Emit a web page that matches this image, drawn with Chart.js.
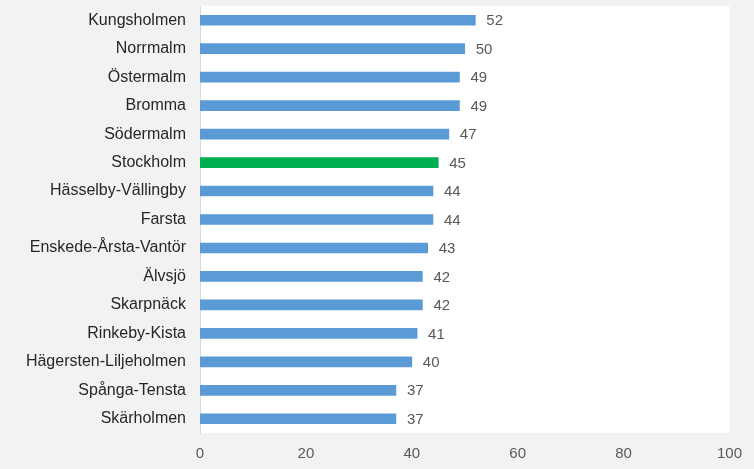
<!DOCTYPE html>
<html>
<head>
<meta charset="utf-8">
<script src="https://cdn.jsdelivr.net/npm/chart.js@4/dist/chart.umd.min.js"></script>
<style>
  html, body { margin: 0; padding: 0; background: #f2f2f2; }
  #wrap { width: 754px; height: 469px; }
</style>
</head>
<body>
<div id="wrap"><canvas id="bar_chart" width="754" height="469"></canvas></div>
<script>
// data
const districts = ['Kungsholmen', 'Norrmalm', 'Östermalm', 'Bromma', 'Södermalm', 'Stockholm',
    'Hässelby-Vällingby', 'Farsta', 'Enskede-Årsta-Vantör', 'Älvsjö', 'Skarpnäck',
    'Rinkeby-Kista', 'Hägersten-Liljeholmen', 'Spånga-Tensta', 'Skärholmen'];
const values = [52, 50, 49, 49, 47, 45, 44, 44, 43, 42, 42, 41, 40, 37, 37];
const xTicks = [0, 20, 40, 60, 80, 100];

const FONT = "'Liberation Sans', sans-serif";
const barColors = districts.map(d => d === 'Stockholm' ? '#00b050' : '#5b9bd5');

// white plot area + value labels
const plotBg = {
    id: 'plotBg',
    beforeDraw: function (chart) {
        const a = chart.chartArea;
        const ctx = chart.ctx;
        ctx.save();
        ctx.fillStyle = '#ffffff';
        ctx.fillRect(a.left, a.top, a.right - a.left, a.bottom - a.top);
        ctx.restore();
    },
    afterDatasetsDraw: function (chart) {
        const ctx = chart.ctx;
        const meta = chart.getDatasetMeta(0);
        ctx.save();
        ctx.fillStyle = '#595959';
        ctx.font = '15px ' + FONT;
        ctx.textAlign = 'left';
        ctx.textBaseline = 'middle';
        meta.data.forEach(function (bar, i) {
            ctx.fillText(String(values[i]), bar.x + 11, bar.y + 1);
        });
        ctx.restore();
    }
};

var ctx = document.getElementById('bar_chart').getContext('2d');
window.myBar = new Chart(ctx, {
    type: 'bar',
    data: {
        labels: districts,
        datasets: [{
            data: values,
            backgroundColor: barColors,
            barThickness: 10
        }]
    },
    options: {
        indexAxis: 'y',
        responsive: false,
        animation: false,
        layout: { padding: { top: 6, right: 24, left: 0, bottom: 0 } },
        plugins: { legend: { display: false }, tooltip: { enabled: false } },
        scales: {
            x: {
                min: 0,
                max: 100,
                afterBuildTicks: function (scale) {
                    scale.ticks = xTicks.map(v => ({ value: v }));
                },
                afterFit: function (scale) { scale.height = 36; },
                grid: { display: false, drawTicks: false },
                border: { display: false },
                ticks: { color: '#595959', font: { family: FONT, size: 15 }, padding: 12 }
            },
            y: {
                afterFit: function (scale) {
                    scale.width = 200;
                    scale.paddingTop = 0;
                    scale.paddingBottom = 0;
                },
                grid: { display: false, drawTicks: false },
                border: { display: true, color: '#d9d9d9', width: 1 },
                ticks: { color: '#262626', font: { family: FONT, size: 16 }, padding: 14 }
            }
        }
    },
    plugins: [plotBg]
});
</script>
</body>
</html>
